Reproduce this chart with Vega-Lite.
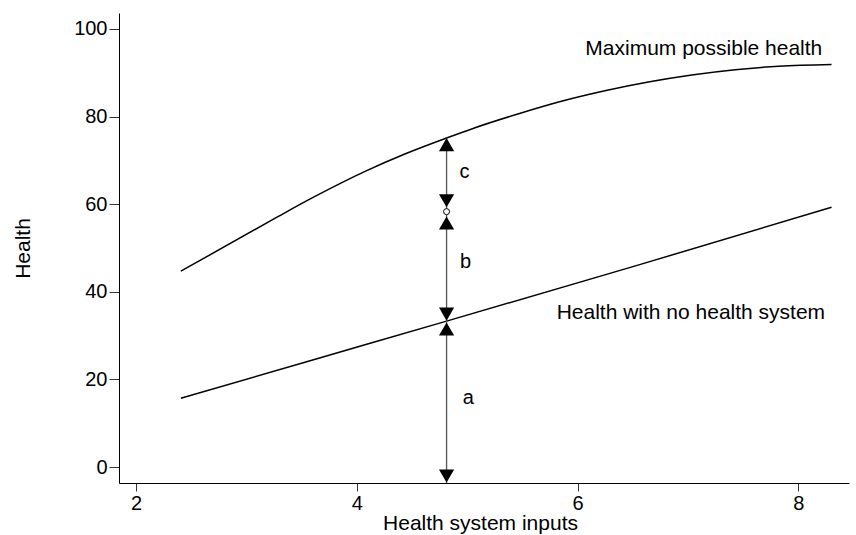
{
  "$schema": "https://vega.github.io/schema/vega-lite/v6.json",
  "width": 730,
  "height": 470,
  "autosize": {"type": "none"},
  "padding": {"left": 119, "top": 13, "right": 7, "bottom": 52},
  "background": "white",
  "config": {
    "view": {"stroke": null},
    "font": "Liberation Sans",
    "axis": {
      "grid": false,
      "domainColor": "black",
      "domainWidth": 1,
      "tickColor": "#333",
      "labelColor": "black",
      "titleColor": "black",
      "labelFont": "Liberation Sans",
      "titleFont": "Liberation Sans",
      "titleFontWeight": "normal",
      "labelFontSize": 20,
      "titleFontSize": 21
    }
  },
  "datasets": {
    "curves": [
      {"series": "max", "x": 2.406, "y": 44.7},
      {"series": "max", "x": 3.253, "y": 56.7},
      {"series": "max", "x": 3.608, "y": 61.6},
      {"series": "max", "x": 4.08, "y": 67.55},
      {"series": "max", "x": 4.435, "y": 71.45},
      {"series": "max", "x": 4.813, "y": 75.1},
      {"series": "max", "x": 5.065, "y": 77.4},
      {"series": "max", "x": 5.459, "y": 80.6},
      {"series": "max", "x": 5.853, "y": 83.5},
      {"series": "max", "x": 6.247, "y": 85.9},
      {"series": "max", "x": 6.64, "y": 87.9},
      {"series": "max", "x": 7.034, "y": 89.5},
      {"series": "max", "x": 7.428, "y": 90.7},
      {"series": "max", "x": 7.822, "y": 91.5},
      {"series": "max", "x": 8.3, "y": 91.9},
      {"series": "none", "x": 2.406, "y": 15.7},
      {"series": "none", "x": 3.608, "y": 24.5},
      {"series": "none", "x": 4.813, "y": 33.3},
      {"series": "none", "x": 6.562, "y": 46.2},
      {"series": "none", "x": 8.3, "y": 59.3}
    ],
    "stem": [{"x": 4.813, "y": -3.65, "y2": 75.1}],
    "heads": [
      {"x": 4.813, "y": -2.05, "dir": "triangle-down"},
      {"x": 4.813, "y": 31.5, "dir": "triangle-up"},
      {"x": 4.813, "y": 34.9, "dir": "triangle-down"},
      {"x": 4.813, "y": 55.7, "dir": "triangle-up"},
      {"x": 4.813, "y": 60.8, "dir": "triangle-down"},
      {"x": 4.813, "y": 73.6, "dir": "triangle-up"}
    ],
    "dot": [{"x": 4.813, "y": 58.3}],
    "letters": [
      {"x": 4.93, "y": 67.4, "label": "c"},
      {"x": 4.935, "y": 46.8, "label": "b"},
      {"x": 4.96, "y": 15.8, "label": "a"}
    ],
    "names": [
      {"x": 6.07, "y": 95.4, "label": "Maximum possible health"},
      {"x": 5.81, "y": 35.2, "label": "Health with no health system"}
    ]
  },
  "encoding": {
    "x": {
      "field": "x",
      "type": "quantitative",
      "scale": {"domain": [1.846, 8.458], "nice": false, "zero": false},
      "axis": {
        "title": "Health system inputs",
        "values": [2, 4, 6, 8],
        "tickSize": 8,
        "labelPadding": 2,
        "titleX": 361,
        "titleY": 40,
        "titleBaseline": "middle",
        "titleAlign": "center"
      }
    },
    "y": {
      "field": "y",
      "type": "quantitative",
      "scale": {"domain": [-3.65, 103.65], "nice": false, "zero": false},
      "axis": {
        "title": "Health",
        "values": [0, 20, 40, 60, 80, 100],
        "tickSize": 10,
        "labelPadding": 2,
        "titleAngle": -90,
        "titleX": -96,
        "titleY": 235,
        "titleBaseline": "middle",
        "titleAlign": "center"
      }
    }
  },
  "layer": [
    {
      "data": {"name": "curves"},
      "mark": {"type": "line", "color": "black", "strokeWidth": 1.5, "interpolate": "monotone"},
      "encoding": {"detail": {"field": "series", "type": "nominal"}}
    },
    {
      "data": {"name": "stem"},
      "mark": {"type": "rule", "color": "#555", "strokeWidth": 1.3},
      "encoding": {"y2": {"field": "y2"}}
    },
    {
      "data": {"name": "heads"},
      "mark": {"type": "point", "filled": true, "color": "black", "size": 230, "opacity": 1},
      "encoding": {"shape": {"field": "dir", "type": "nominal", "scale": null}}
    },
    {
      "data": {"name": "dot"},
      "mark": {"type": "point", "shape": "circle", "filled": true, "fill": "white", "stroke": "black", "strokeWidth": 1, "size": 36, "opacity": 1},
      "encoding": {}
    },
    {
      "data": {"name": "letters"},
      "mark": {"type": "text", "align": "left", "baseline": "middle", "fontSize": 20, "color": "black", "font": "Liberation Sans"},
      "encoding": {"text": {"field": "label"}}
    },
    {
      "data": {"name": "names"},
      "mark": {"type": "text", "align": "left", "baseline": "middle", "fontSize": 21, "color": "black", "font": "Liberation Sans"},
      "encoding": {"text": {"field": "label"}}
    }
  ]
}
